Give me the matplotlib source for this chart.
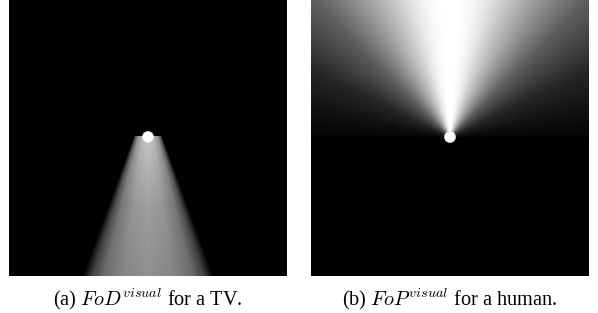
"""Field-of-view maps: FoD for a TV, FoP for a human."""

import matplotlib.pyplot as plt
import numpy as np
from matplotlib.patches import Circle

plt.rcParams["font.family"] = ["Liberation Serif", "DejaVu Serif"]
plt.rcParams["mathtext.fontset"] = "stix"

# panel grid (pixels of the rendered map)
PANEL_W, PANEL_H = 278, 276

# (a) TV: device position, cone apex offset above it, cone half-angle
tv_pos = (139, 137)
tv_apex_offset = 39
tv_half_angle = 19.8
tv_across_frac = [0.0, 0.4, 0.7, 0.88, 1.02]
tv_across_level = [1.0, 0.93, 0.75, 0.45, 0.0]
tv_dist_px = [0, 70, 140]
tv_dist_level = [0.78, 0.62, 0.56]

# (b) human: device position and brightness vs angle from the upward axis
human_pos = (139, 137)
human_angle_deg = [0, 3, 10, 15, 27, 45, 64, 80, 90]
human_level = [1.0, 1.0, 0.96, 0.9, 0.7, 0.37, 0.15, 0.06, 0.02]

captions = [r"(a) $FoD^{visual}$ for a TV.", r"(b) $FoP^{visual}$ for a human."]


def grid():
    x = np.arange(PANEL_W) + 0.5
    y = np.arange(PANEL_H) + 0.5
    return np.meshgrid(x, y)


def tv_field() -> np.ndarray:
    xx, yy = grid()
    x0, y0 = tv_pos
    ay = y0 - tv_apex_offset
    ang = np.degrees(np.arctan2(np.abs(xx - x0), yy - ay))
    frac = ang / tv_half_angle
    across = np.interp(frac, tv_across_frac, tv_across_level, right=0.0)
    dist = np.interp(yy - y0, tv_dist_px, tv_dist_level)
    field = across * dist
    field[yy < y0 - 1] = 0.0
    return field


def human_field() -> np.ndarray:
    xx, yy = grid()
    x0, y0 = human_pos
    ang = np.degrees(np.arctan2(np.abs(xx - x0), y0 - yy))
    field = np.interp(ang, human_angle_deg, human_level, right=0.0)
    field[yy > y0] = 0.0
    return field


fig = plt.figure(figsize=(5.98, 3.13), dpi=100)
W, H = 598, 313
panels = [(9, tv_field(), tv_pos), (311, human_field(), human_pos)]
for (left, field, pos), cap in zip(panels, captions):
    ax = fig.add_axes([left / W, (H - PANEL_H) / H, PANEL_W / W, PANEL_H / H])
    ax.imshow(field, cmap="gray", vmin=0, vmax=1, extent=[0, PANEL_W, PANEL_H, 0],
              interpolation="bilinear", aspect="auto")
    ax.add_patch(Circle(pos, 5.5, color="white", ec="#dddddd", lw=0.5))
    ax.set_xlim(0, PANEL_W)
    ax.set_ylim(PANEL_H, 0)
    ax.axis("off")
    fig.text((left + PANEL_W / 2) / W, 1 - 299 / H, cap, ha="center", va="center",
             fontsize=14.6, math_fontfamily="cm")

fig.savefig("out.png", dpi=100)
